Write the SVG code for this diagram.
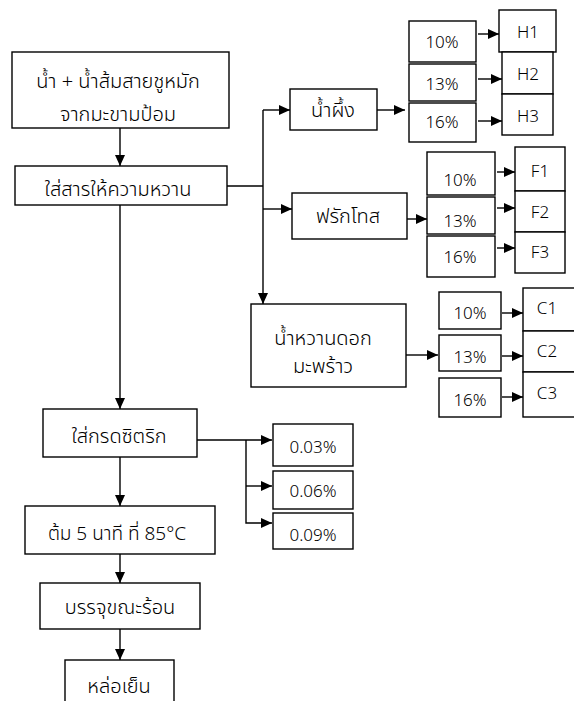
<svg xmlns="http://www.w3.org/2000/svg" width="574" height="701" viewBox="0 0 574 701">
<style>
.b{fill:#fff;stroke:#000;stroke-width:1.4}
.c{fill:none;stroke:#000;stroke-width:1.4}
text{font-family:"Noto Sans Thai","Noto Sans","DejaVu Sans",sans-serif;font-size:20px;font-weight:300;fill:#000;text-anchor:middle}
.l{font-size:17px}
</style>
<defs>
<marker id="a" viewBox="0 0 11 10" refX="11" refY="5" markerWidth="11" markerHeight="10" markerUnits="userSpaceOnUse" orient="auto"><path d="M0,0 L11,5 L0,10 z" fill="#000"/></marker>
</defs>
<rect width="574" height="701" fill="#fff"/>
<g id="connectors">
<path class="c" d="M120,128 V166" marker-end="url(#a)"/>
<path class="c" d="M227,186 H263"/>
<path class="c" d="M263,110 V304" marker-end="url(#a)"/>
<path class="c" d="M263,110 H290" marker-end="url(#a)"/>
<path class="c" d="M263,209 H292" marker-end="url(#a)"/>
<path class="c" d="M377,110 H405" marker-end="url(#a)"/>
<path class="c" d="M478,34 H499" marker-end="url(#a)"/>
<path class="c" d="M478,79 H502" marker-end="url(#a)"/>
<path class="c" d="M478,121 H502" marker-end="url(#a)"/>
<path class="c" d="M407,219 H427" marker-end="url(#a)"/>
<path class="c" d="M497,172 H515" marker-end="url(#a)"/>
<path class="c" d="M497,208 H515" marker-end="url(#a)"/>
<path class="c" d="M497,248 H515" marker-end="url(#a)"/>
<path class="c" d="M406,355 H438" marker-end="url(#a)"/>
<path class="c" d="M502,313 H523" marker-end="url(#a)"/>
<path class="c" d="M502,356 H523" marker-end="url(#a)"/>
<path class="c" d="M502,397 H523" marker-end="url(#a)"/>
<path class="c" d="M120,205 V409" marker-end="url(#a)"/>
<path class="c" d="M194,440 H272" marker-end="url(#a)"/>
<path class="c" d="M246,440 V523 H272" marker-end="url(#a)"/>
<path class="c" d="M246,486 H272" marker-end="url(#a)"/>
<path class="c" d="M120,457 V506" marker-end="url(#a)"/>
<path class="c" d="M120,554 V583" marker-end="url(#a)"/>
<path class="c" d="M120,629 V660" marker-end="url(#a)"/>
</g>
<g id="n1"><rect class="b" x="12" y="52" width="217" height="76"/><text x="118" y="88">น้ำ + น้ำส้มสายชูหมัก</text><text x="118" y="121">จากมะขามป้อม</text></g>
<g id="n2"><rect class="b" x="15" y="166" width="212" height="39"/><text x="118" y="196">ใส่สารให้ความหวาน</text></g>
<g id="honey"><rect class="b" x="290" y="89" width="87" height="41"/><text x="333" y="117">น้ำผึ้ง</text></g>
<g id="h10"><rect class="b" x="409" y="21" width="67" height="41"/><text class="l" x="442" y="48">10%</text></g>
<g id="h13"><rect class="b" x="409" y="64" width="67" height="37"/><text class="l" x="442" y="90">13%</text></g>
<g id="h16"><rect class="b" x="409" y="103" width="67" height="39"/><text class="l" x="442" y="128">16%</text></g>
<g id="H1"><rect class="b" x="499" y="10" width="57" height="42"/><text class="l" x="528" y="38">H1</text></g>
<g id="H2"><rect class="b" x="502" y="52" width="51" height="42"/><text class="l" x="528" y="80">H2</text></g>
<g id="H3"><rect class="b" x="502" y="94" width="51" height="41"/><text class="l" x="528" y="122">H3</text></g>
<g id="fru"><rect class="b" x="292" y="193" width="115" height="46"/><text x="348" y="223">ฟรักโทส</text></g>
<g id="f10"><rect class="b" x="427" y="152" width="68" height="43"/><text class="l" x="460" y="186">10%</text></g>
<g id="f13"><rect class="b" x="427" y="197" width="68" height="37"/><text class="l" x="460" y="227">13%</text></g>
<g id="f16"><rect class="b" x="427" y="236" width="68" height="41"/><text class="l" x="460" y="263">16%</text></g>
<g id="F1"><rect class="b" x="515" y="147" width="50" height="44"/><text class="l" x="540" y="177">F1</text></g>
<g id="F2"><rect class="b" x="515" y="191" width="50" height="41"/><text class="l" x="540" y="218">F2</text></g>
<g id="F3"><rect class="b" x="515" y="232" width="50" height="41"/><text class="l" x="540" y="258">F3</text></g>
<g id="coco"><rect class="b" x="251" y="304" width="155" height="83"/><text x="323" y="345">น้ำหวานดอก</text><text x="323" y="373">มะพร้าว</text></g>
<g id="c10"><rect class="b" x="439" y="292" width="62" height="37"/><text class="l" x="470" y="319">10%</text></g>
<g id="c13"><rect class="b" x="439" y="335" width="62" height="36"/><text class="l" x="470" y="363">13%</text></g>
<g id="c16"><rect class="b" x="439" y="378" width="62" height="39"/><text class="l" x="470" y="406">16%</text></g>
<g id="C1"><rect class="b" x="523" y="288" width="52" height="43"/><text class="l" x="547" y="314">C1</text></g>
<g id="C2"><rect class="b" x="523" y="331" width="52" height="41"/><text class="l" x="547" y="357">C2</text></g>
<g id="C3"><rect class="b" x="523" y="372" width="52" height="45"/><text class="l" x="547" y="399">C3</text></g>
<g id="cit"><rect class="b" x="43" y="409" width="154" height="48"/><text x="119" y="443">ใส่กรดซิตริก</text></g>
<g id="a03"><rect class="b" x="273" y="424" width="80" height="42"/><text class="l" x="313" y="453">0.03%</text></g>
<g id="a06"><rect class="b" x="273" y="471" width="80" height="38"/><text class="l" x="313" y="497">0.06%</text></g>
<g id="a09"><rect class="b" x="273" y="513" width="80" height="36"/><text class="l" x="313" y="541">0.09%</text></g>
<g id="boil"><rect class="b" x="25" y="506" width="190" height="48"/><text x="117" y="540" style="font-size:19px">ต้ม 5 นาที ที่ 85°C</text></g>
<g id="fill"><rect class="b" x="40" y="583" width="160" height="46"/><text x="120" y="614">บรรจุขณะร้อน</text></g>
<g id="cool"><rect class="b" x="65" y="660" width="109" height="50"/><text x="119" y="693">หล่อเย็น</text></g>
</svg>
